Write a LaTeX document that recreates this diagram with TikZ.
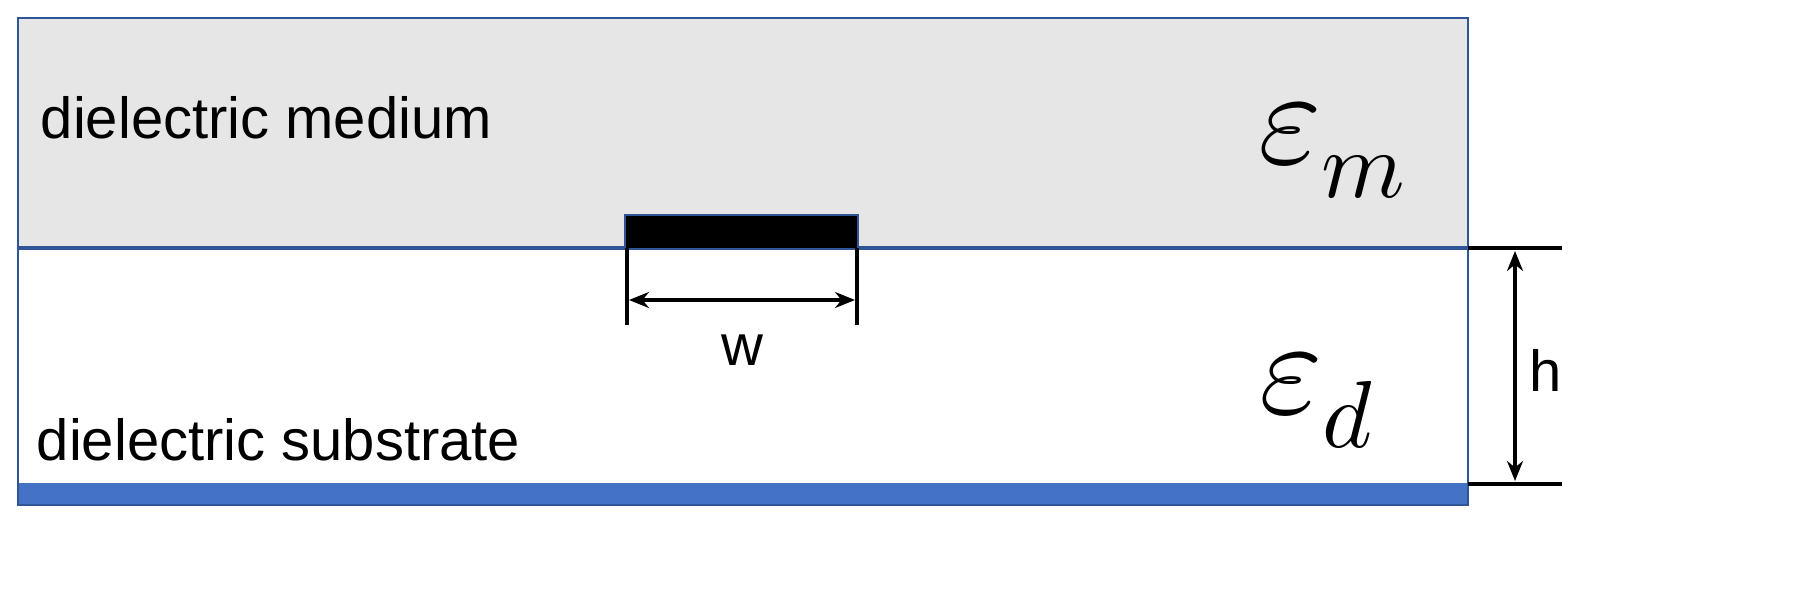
\documentclass[tikz,border=0pt]{standalone}
\usepackage{fontspec}
\usepackage{unicode-math}
\setmathfont{Latin Modern Math}
\setmainfont{Liberation Sans}
\usetikzlibrary{arrows.meta}
\definecolor{edge}{HTML}{2F5597}
\definecolor{gnd}{HTML}{4472C4}
\definecolor{medium}{HTML}{E6E6E6}
\begin{document}
\begin{tikzpicture}[x=0.25pt,y=-0.25pt,
  lbl/.style={font=\fontsize{14.5}{16}\selectfont, anchor=west, inner sep=0},
  eps/.style={font=\fontsize{34}{36}\selectfont, inner sep=0},
  dim/.style={line width=0.8pt},
  dimline/.style={line width=1pt}]
\useasboundingbox (0,0) rectangle (1806,608);
\fill[medium] (18,18) rectangle (1468,248);
\fill[gnd] (18,483) rectangle (1468,505);
\draw[edge, line width=0.6pt] (18,18) rectangle (1468,505);
\draw[edge, line width=0.8pt] (18,248) -- (1468,248);
\fill[black] (625,215) rectangle (858,248);
\draw[edge, line width=0.5pt] (625,248) -- (625,215) -- (858,215) -- (858,248);
\node[lbl] (med) at (40,118) {dielectric medium};
\node[lbl] (sub) at (36,440) {dielectric substrate};
\node[eps] (em) at (1333,150) {$\varepsilon_m$};
\node[eps] (ed) at (1318,400) {$\varepsilon_d$};
\coordinate (wl1) at (627,248); \coordinate (wl2) at (627,325);
\coordinate (wr1) at (857,248); \coordinate (wr2) at (857,325);
\draw[dimline] (wl1) -- (wl2); \draw[dimline] (wr1) -- (wr2);
\coordinate (wa) at (629,300); \coordinate (wb) at (855,300);
\draw[dim, {Stealth[length=5pt,width=4pt]}-{Stealth[length=5pt,width=4pt]}] (wa) -- (wb);
\node[lbl, anchor=center] (w) at (742,350) {w};
\coordinate (ht1) at (1468,248); \coordinate (ht2) at (1562,248);
\coordinate (hb1) at (1468,484); \coordinate (hb2) at (1562,484);
\draw[dimline] (ht1) -- (ht2); \draw[dimline] (hb1) -- (hb2);
\coordinate (ha) at (1515,251); \coordinate (hb) at (1515,481);
\draw[dim, {Stealth[length=5pt,width=4pt]}-{Stealth[length=5pt,width=4pt]}] (ha) -- (hb);
\node[lbl, anchor=center] (h) at (1546,370) {h};
\end{tikzpicture}
\end{document}
